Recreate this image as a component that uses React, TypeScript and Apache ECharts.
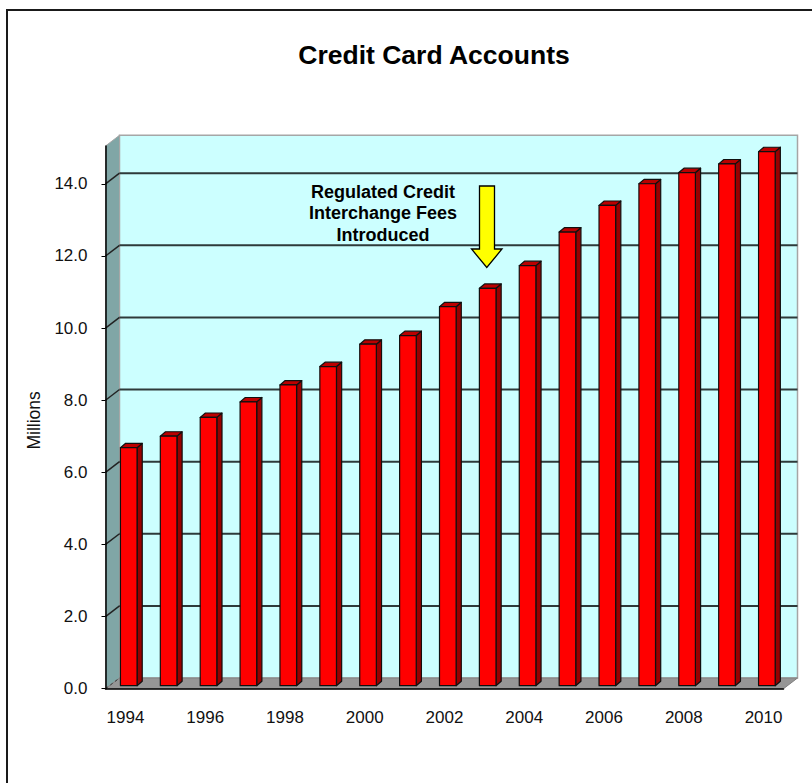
import React, { useEffect, useRef } from "react";
import * as echarts from "echarts";

const TITLE = "Credit Card Accounts";
const AXIS_NAME = "Millions";
const ANNOTATION = "Regulated Credit\nInterchange Fees\nIntroduced";
const years = ["1994","1995","1996","1997","1998","1999","2000","2001","2002","2003","2004","2005","2006","2007","2008","2009","2010"];
const accounts = [6.6,6.92,7.44,7.87,8.34,8.85,9.47,9.71,10.51,11.02,11.65,12.58,13.32,13.92,14.23,14.47,14.81];
const yTicks = [0,2,4,6,8,10,12,14];
const gridValues = [2,4,6,8,10,12,14];

const FONT = '"Liberation Sans", Arial, sans-serif';
const DX = 14, DY = -10.7;            // chart box depth
const BAR_W = 16.6, BAR_OX = 3.3 - 8.3, BAR_OY = -3, BAR_DX = 5.2, BAR_DY = -4.4; // bar box

export default function App() {
  const ref = useRef<HTMLDivElement>(null);
  useEffect(() => {
    const chart = echarts.init(ref.current!, undefined, { renderer: "svg" });

    const renderWalls = (params: any) => {
      const c = params.coordSys;
      const x0 = c.x, x1 = c.x + c.width, y0 = c.y, y1 = c.y + c.height;
      return {
        type: "group",
        children: [
          { type: "polygon", shape: { points: [[x0 + DX, y0 + DY], [x1 + DX, y0 + DY], [x1 + DX, y1 + DY], [x0 + DX, y1 + DY]] },
            style: { fill: "#CCFFFF", stroke: "#A6A6A6", lineWidth: 1.5 } },
          { type: "polygon", shape: { points: [[x0, y0], [x0 + DX, y0 + DY], [x0 + DX, y1 + DY], [x0, y1]] },
            style: { fill: "#80A6A6", stroke: "#A6A6A6", lineWidth: 1 } },
          { type: "polygon", shape: { points: [[x0, y1], [x0 + DX, y1 + DY], [x1 + DX, y1 + DY], [x1, y1]] },
            style: { fill: "#969696", stroke: "#808080", lineWidth: 1 } },
          { type: "line", shape: { x1: x0, y1: y1, x2: x0 + DX, y2: y1 + DY },
            style: { stroke: "#333333", lineWidth: 1, lineDash: [3, 3] } },
        ],
      };
    };

    const renderGrid = (params: any, api: any) => {
      const c = params.coordSys;
      const y = api.coord([0, api.value(1)])[1];
      return {
        type: "group",
        children: [
          { type: "line", shape: { x1: c.x, y1: y, x2: c.x + DX, y2: y + DY }, style: { stroke: "#222222", lineWidth: 1.5 } },
          { type: "line", shape: { x1: c.x + DX, y1: y + DY, x2: c.x + c.width + DX, y2: y + DY }, style: { stroke: "#2E3A3A", lineWidth: 2 } },
        ],
      };
    };

    const renderBar = (_: any, api: any) => {
      const top = api.coord([api.value(0), api.value(1)]);
      const base = api.coord([api.value(0), 0]);
      const l = top[0] + BAR_OX, r = l + BAR_W, t = top[1] + BAR_OY, b = base[1] + BAR_OY;
      const edge = { stroke: "#101010", lineWidth: 1.2, lineJoin: "round" };
      return {
        type: "group",
        children: [
          { type: "polygon", shape: { points: [[r, t], [r + BAR_DX, t + BAR_DY], [r + BAR_DX, b + BAR_DY], [r, b]] },
            style: { fill: "#990000", ...edge } },
          { type: "polygon", shape: { points: [[l, t], [l + BAR_DX, t + BAR_DY], [r + BAR_DX, t + BAR_DY], [r, t]] },
            style: { fill: "#BB0000", ...edge } },
          { type: "polygon", shape: { points: [[l, t], [r, t], [r, b], [l, b]] },
            style: { fill: "#FF0000", ...edge } },
        ],
      };
    };

    chart.setOption({
      animation: false,
      backgroundColor: "#FFFFFF",
      title: {
        text: TITLE,
        left: 429,
        top: 36,
        textAlign: "center",
        textStyle: { fontFamily: FONT, fontSize: 26.5, fontWeight: "bold", color: "#000000" },
      },
      grid: { left: 105.5, right: 28.5, top: 146, bottom: 94.3, containLabel: false },
      xAxis: {
        type: "category",
        data: years,
        z: 10,
        axisLine: { lineStyle: { color: "#000000", width: 1.5 } },
        axisTick: { length: 5, lineStyle: { color: "#000000", width: 1 } },
        axisLabel: { interval: 1, margin: 20, fontFamily: FONT, fontSize: 17, color: "#111111" },
        splitLine: { show: false },
      },
      yAxis: {
        type: "value",
        min: 0,
        max: 15.05,
        z: 10,
        name: AXIS_NAME,
        nameLocation: "middle",
        nameGap: 62.5,
        nameRotate: 90,
        nameTextStyle: { fontFamily: FONT, fontSize: 17.5, color: "#111111", padding: [0, 6, 0, 0] },
        axisLine: { show: true, lineStyle: { color: "#000000", width: 1.5 } },
        axisTick: { show: true, length: 4, customValues: yTicks, lineStyle: { color: "#000000", width: 1 } },
        axisLabel: {
          customValues: yTicks,
          margin: 18,
          padding: [4, 0, 0, 0],
          fontFamily: FONT,
          fontSize: 17,
          color: "#111111",
          formatter: (v: number) => v.toFixed(1),
        },
        splitLine: { show: false },
      },
      series: [
        { type: "custom", name: "walls", z: 1, silent: true, renderItem: renderWalls, data: [[0, 0]], encode: { x: 0, y: 1 } },
        { type: "custom", name: "grid", z: 2, silent: true, renderItem: renderGrid, data: gridValues.map((v) => [0, v]), encode: { x: 0, y: 1 } },
        { type: "custom", name: "Credit Card Accounts", z: 3, silent: true, renderItem: renderBar, data: accounts.map((v, i) => [i, v]), encode: { x: 0, y: 1 } },
      ],
      graphic: [
        { type: "polyline", z: 100, silent: true, shape: { points: [[7, 783], [7, 10], [812, 10]] }, style: { fill: "none", stroke: "#1A1A1A", lineWidth: 2 } },
        { type: "polygon", z: 100, silent: true,
          shape: { points: [[479.5, 186], [494.5, 186], [494.5, 249], [502, 249], [486.8, 267.5], [471.5, 249], [479.5, 249]] },
          style: { fill: "#FFFF00", stroke: "#000000", lineWidth: 1.3 } },
        { type: "text", z: 100, silent: true, x: 383, y: 181,
          style: { text: ANNOTATION, font: `bold 18px ${FONT}`, fill: "#000000", textAlign: "center", textVerticalAlign: "top", lineHeight: 21.5 } },
      ],
    });
    return () => chart.dispose();
  }, []);
  return <div ref={ref} style={{ position: "fixed", left: 0, top: 0, width: 812, height: 783, background: "#fff" }} />;
}
